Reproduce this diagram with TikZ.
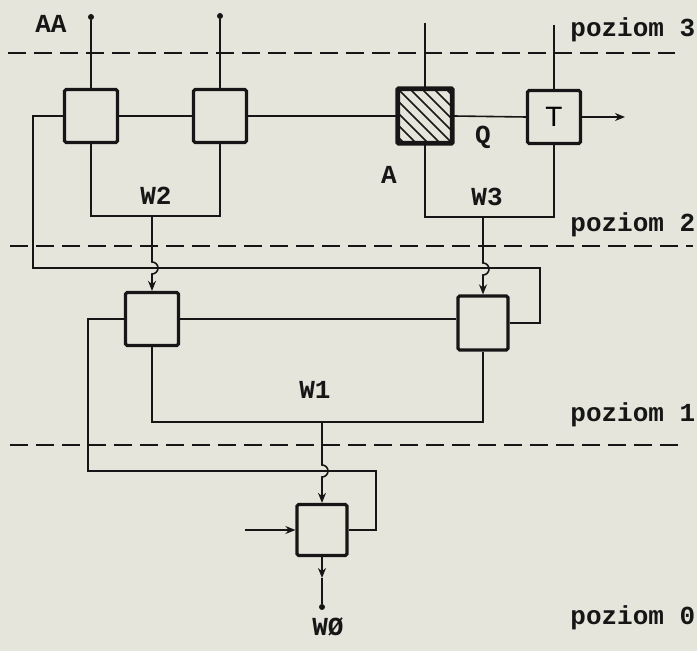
\documentclass[tikz,border=0pt]{standalone}
\usepackage{fontspec}
\setmonofont{Liberation Mono}
\setsansfont{Liberation Sans}
\usetikzlibrary{arrows.meta,calc}
\definecolor{paper}{RGB}{229,229,220}
\definecolor{ink}{RGB}{22,22,22}
\tikzset{
  blk/.style={draw=ink, fill=paper, line width=1.6pt, minimum width=26.5pt,
    minimum height=26.5pt, inner sep=0pt, rounded corners=0.8pt},
  wire/.style={draw=ink, line width=0.8pt},
  lvl/.style={draw=ink, line width=0.8pt, dash pattern=on 9pt off 4pt},
  lab/.style={font=\ttfamily\bfseries\fontsize{13}{13}\selectfont, text=ink, inner sep=0pt},
  arr/.style={-{Stealth[length=5pt,width=4pt]}},
  dotc/.style={circle, fill=ink, inner sep=0pt, minimum size=3pt},
  hatch/.style={draw=ink, line width=0.8pt},
}
\begin{document}
\begin{tikzpicture}[x=0.5pt,y=-0.5pt]
\fill[paper] (0,0) rectangle (697,651);
\useasboundingbox (0,0) rectangle (697,651);

% level lines
\coordinate (L3a) at (8,53);   \coordinate (L3b) at (675,53);
\coordinate (L2a) at (10,246); \coordinate (L2b) at (693,246);
\coordinate (L1a) at (10,445); \coordinate (L1b) at (684,445);
\draw[lvl] (L3a) -- (L3b);
\draw[lvl] (L2a) -- (L2b);
\draw[lvl] (L1a) -- (L1b);

% blocks
\node[blk] (b1) at (91,116) {};
\node[blk] (b2) at (220,116) {};
\node[blk] (b3) at (425,116) {};
\node[blk] (bT) at (554,117) {\sffamily\fontsize{14}{14}\selectfont T};
\node[blk] (b4) at (152,319) {};
\node[blk, minimum width=25pt, minimum height=27pt] (b5) at (483,323) {};
\node[blk, minimum width=25pt, minimum height=25.5pt] (b6) at (322,530) {};

% hatching of b3
\begin{scope}
  \clip (b3.south west) rectangle (b3.north east);
  \foreach \i in {-84,-72,...,84}
    \draw[hatch] (425+\i-40,116-40) -- (425+\i+40,116+40);
\end{scope}
\draw[draw=ink, line width=1.6pt, rounded corners=0.8pt]
  (b3.south west) rectangle (b3.north east);

% coordinates
\node[dotc] (d1) at (91,17) {};
\node[dotc] (d2) at (220,16) {};
\coordinate (t3) at (425,23);
\coordinate (t4) at (554,25);
\coordinate (out) at (625,117);
\coordinate (j2) at (152,216);
\coordinate (j3) at (483,217);
\coordinate (j1) at (322,422);
\coordinate (cA) at (33,268);
\coordinate (cB) at (540,268);
\coordinate (cC) at (88,471);
\coordinate (cD) at (376,471);
\coordinate (h2) at (152,262);
\coordinate (h3) at (483,263);
\coordinate (h1) at (322,465);
\coordinate (in6) at (245,530);
\coordinate (m6) at (322,578);
\node[dotc] (o6) at (322,607) {};

% top inputs
\draw[wire] (d1) -- (b1.north);
\draw[wire] (d2) -- (b2.north);
\draw[wire] (t3) -- (b3.north);
\draw[wire] (t4) -- (bT.north);

% level 3 chain
\draw[wire] (b1.east) -- (b2.west);
\draw[wire] (b2.east) -- (b3.west);
\draw[wire] (b3.east) -- (bT.west);
\draw[wire, arr] (bT.east) -- (out);

% feedback from b1 to b5
\draw[wire] (b1.west) -| (cA) -- (cB) |- (b5.east);

% W2 and W3 collectors
\draw[wire] (b1.south) |- (j2) -| (b2.south);
\draw[wire] (b3.south) |- (j3) -| (bT.south);
\draw[wire, arr] (j2) -- (h2) arc[start angle=90, end angle=-90, radius=3pt] -- (b4.north);
\draw[wire, arr] (j3) -- (h3) arc[start angle=90, end angle=-90, radius=3pt] -- (b5.north);

% level 2
\draw[wire] (b4.east) -- (b4.east -| b5.west);
\draw[wire] (b4.west) -| (cC) -- (cD) |- (b6.east);
\draw[wire] (b4.south) |- (j1) -| (b5.south);
\draw[wire, arr] (j1) -- (h1) arc[start angle=90, end angle=-90, radius=3pt] -- (b6.north);

% level 0
\draw[wire, arr] (in6) -- (b6.west);
\draw[wire, arr] (b6.south) -- (m6);
\draw[wire] (m6) -- (o6);

% labels
\node[lab] (lAA) at (51,24) {AA};
\node[lab] (lW2) at (156,196) {W2};
\node[lab] (lW3) at (487,197) {W3};
\node[lab] (lA) at (389,175) {A};
\node[lab] (lQ) at (483,137) {Q};
\node[lab] (lW1) at (315,390) {W1};
\node[lab] (lW0) at (328,627) {WØ};
\node[lab, anchor=base west] (p3) at (570,37) {poziom 3};
\node[lab, anchor=base west] (p2) at (570,232) {poziom 2};
\node[lab, anchor=base west] (p1) at (570,422) {poziom 1};
\node[lab, anchor=base west] (p0) at (570,625) {poziom 0};
\end{tikzpicture}
\end{document}
